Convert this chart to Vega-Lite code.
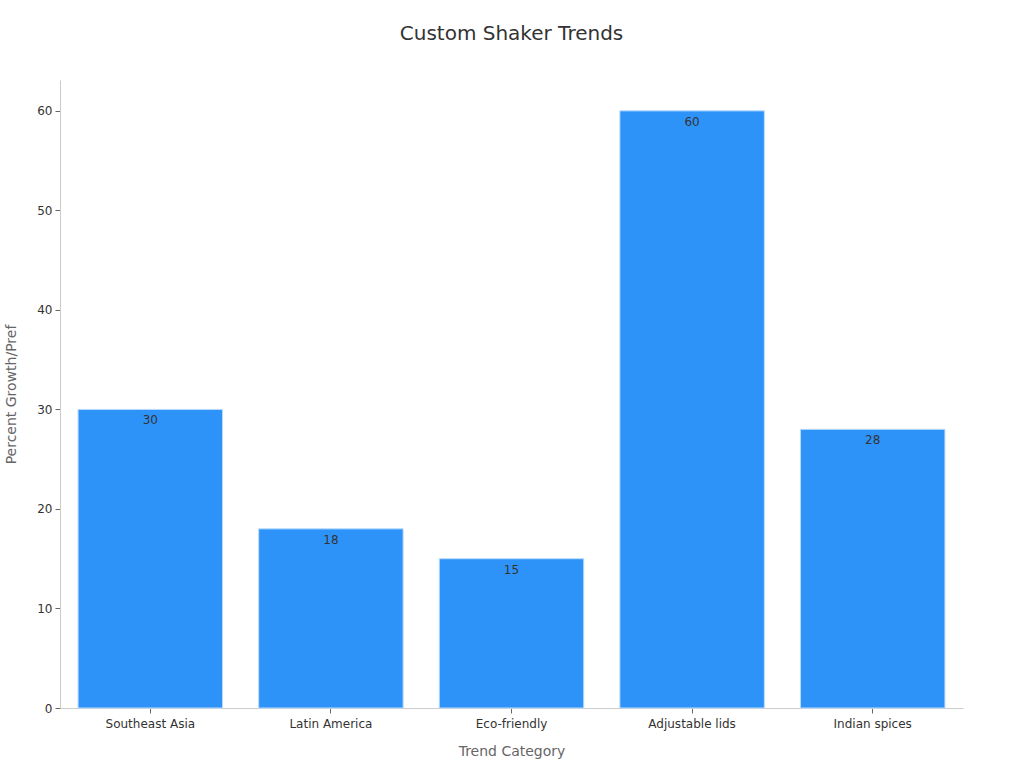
{
  "$schema": "https://vega.github.io/schema/vega-lite/v6.json",
  "width": 903,
  "height": 628,
  "autosize": {"type": "none"},
  "padding": {"left": 60, "top": 80, "right": 61, "bottom": 60},
  "background": "white",
  "title": {"text": "Custom Shaker Trends", "font": "DejaVu Sans", "fontSize": 20, "fontWeight": "normal", "color": "#333333", "offset": 36, "anchor": "middle"},
  "config": {"view": {"stroke": null}, "font": "DejaVu Sans"},
  "data": {"values": [
    {"category": "Southeast Asia", "value": 30},
    {"category": "Latin America", "value": 18},
    {"category": "Eco-friendly", "value": 15},
    {"category": "Adjustable lids", "value": 60},
    {"category": "Indian spices", "value": 28}
  ]},
  "encoding": {
    "x": {"field": "category", "type": "nominal", "sort": null,
      "scale": {"paddingInner": 0.2, "paddingOuter": 0.1},
      "axis": {"title": "Trend Category", "labelAngle": 0, "labelFontSize": 12, "labelColor": "#333333", "titleFontSize": 14, "titleColor": "#666666", "titleFontWeight": "normal", "titlePadding": 15, "domainColor": "#cccccc", "tickColor": "#666666", "tickSize": 5, "labelPadding": 5}},
    "y": {"field": "value", "type": "quantitative",
      "scale": {"domain": [0, 63.1], "nice": false},
      "axis": {"title": "Percent Growth/Pref", "values": [0, 10, 20, 30, 40, 50, 60], "grid": false, "labelFontSize": 12, "labelColor": "#333333", "titleFontSize": 14, "titleColor": "#666666", "titleFontWeight": "normal", "titlePadding": 18, "domainColor": "#cccccc", "tickColor": "#666666", "tickSize": 5, "labelPadding": 3}}
  },
  "layer": [
    {"mark": {"type": "bar", "color": "#2E93F9", "stroke": "#b9dcfd", "strokeWidth": 1}},
    {"mark": {"type": "text", "baseline": "top", "dy": 6, "fontSize": 12, "color": "#333333"},
     "encoding": {"text": {"field": "value", "type": "quantitative"}}}
  ]
}
